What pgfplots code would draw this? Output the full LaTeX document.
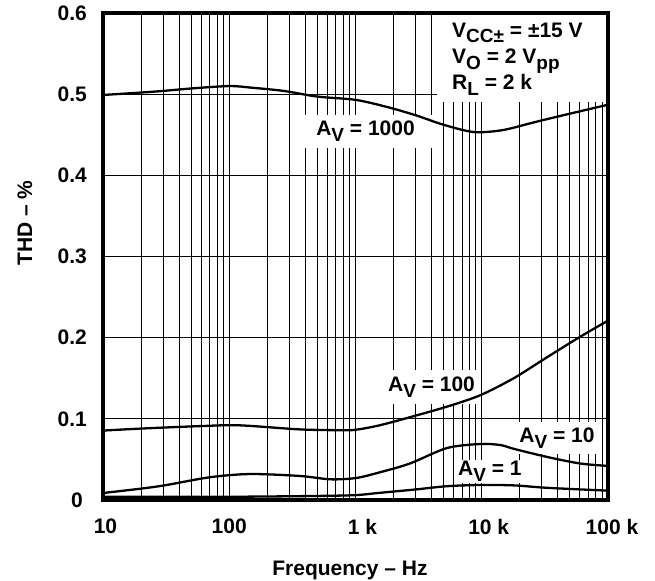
\documentclass[border=0pt]{standalone}
\usepackage{fontspec}
\setmainfont{Liberation Sans}
\usepackage{pgfplots}
\pgfplotsset{compat=1.18}
\newcommand{\sub}[1]{\raisebox{-5.5bp}{\fontsize{19bp}{19bp}\selectfont #1}}
\begin{document}
\begin{tikzpicture}[font=\bfseries\fontsize{21bp}{25bp}\selectfont]
\useasboundingbox (0,0) rectangle (655bp,581bp);
\begin{axis}[
 at={(103bp,81bp)}, anchor=south west,
 scale only axis, width=505bp, height=487bp,
 xmode=log, xmin=10, xmax=100000, ymin=0, ymax=0.6,
 xtick={10,100,1000,10000,100000},
 minor xtick={20,30,40,50,60,70,80,90,200,300,400,500,600,700,800,900,2000,3000,4000,5000,6000,7000,8000,9000,20000,30000,40000,50000,60000,70000,80000,90000},
 xticklabels={\hspace*{5bp}10,100,\hspace*{14bp}1 k,\hspace*{14bp}10 k,\hspace*{8bp}100 k},
 ytick={0,0.1,0.2,0.3,0.4,0.5,0.6},
 yticklabels={\hspace*{0bp}0\hspace*{4bp},0.1,0.2,0.3,0.4,0.5,0.6},
 xminorgrids=true, xmajorgrids=true, ymajorgrids=true,
 major grid style={black, line width=1bp},
 minor grid style={black, line width=1bp},
 major tick length=0pt, minor tick length=0pt,
 axis line style={line width=3.5bp},
 xticklabel style={inner sep=0pt, anchor=north, yshift=-19bp},
 yticklabel style={inner sep=0pt, anchor=east},
 yticklabel shift=16bp,
 xlabel={Frequency -- Hz}, ylabel={THD -- \%},
 xlabel style={at={(axis description cs:0.489,-0.154)}, anchor=base, inner sep=0pt},
 ylabel style={at={(axis description cs:-0.1545,0.569)}, anchor=center, inner sep=0pt},
]
% label boxes (under the curves)
\fill[white] (rel axis cs:0.6614,0.817) rectangle (rel axis cs:0.996,0.996);
\node[fill=white, inner sep=0pt, minimum width=140bp, minimum height=33bp] at (axis cs:1200,0.4546) {A\sub{V} = 1000};
\node[fill=white, inner sep=0pt, minimum width=93bp, minimum height=34bp] at (axis cs:4000,0.1392) {A\sub{V} = 100};
\node[fill=white, inner sep=0pt, minimum width=80bp, minimum height=32bp] at (axis cs:39400,0.0764) {A\sub{V} = 10};
\node[fill=white, inner sep=0pt, minimum width=64bp, minimum height=23bp] at (axis cs:11600,0.0351) {A\sub{V} = 1};
\node[anchor=base west, inner sep=0pt] at (rel axis cs:0.6911,0.9507) {V\sub{CC±} = ±15 V};
\node[anchor=base west, inner sep=0pt] at (rel axis cs:0.6911,0.8953) {V\sub{O} = 2 V\sub{pp}};
\node[anchor=base west, inner sep=0pt] at (rel axis cs:0.6911,0.8419) {R\sub{L} = 2 k};
% Av = 1000
\addplot[black, line width=2.3bp, smooth] coordinates {
(10,0.499) (20,0.502) (30,0.504) (50,0.507) (100,0.510) (150,0.508) (270,0.504)
(500,0.497) (1000,0.493) (1800,0.484) (3000,0.474) (4600,0.464) (7000,0.456)
(9400,0.453) (15000,0.456) (27000,0.466) (50000,0.476) (100000,0.487)};
% Av = 100
\addplot[black, line width=2.3bp, smooth] coordinates {
(10,0.0855) (20,0.088) (58,0.091) (120,0.092) (360,0.087) (750,0.086) (1000,0.0865)
(1550,0.092) (2700,0.102) (5300,0.115) (9700,0.129) (17900,0.150) (33000,0.176)
(60000,0.201) (100000,0.221)};
% Av = 10
\addplot[black, line width=2.3bp, smooth] coordinates {
(10,0.0086) (20,0.014) (32,0.0185) (70,0.028) (146,0.032) (363,0.0296) (630,0.0255)
(1000,0.027) (1550,0.034) (2700,0.045) (5300,0.064) (9700,0.069) (14000,0.0677)
(18000,0.063) (33000,0.053) (60000,0.045) (100000,0.042)};
% Av = 1
\addplot[black, line width=2.3bp, smooth] coordinates {
(10,0.004) (100,0.004) (500,0.005) (1000,0.006) (1500,0.0086) (3000,0.013)
(5300,0.017) (9700,0.0185) (18000,0.018) (33000,0.015) (100000,0.0115)};
\end{axis}
\end{tikzpicture}
\end{document}
